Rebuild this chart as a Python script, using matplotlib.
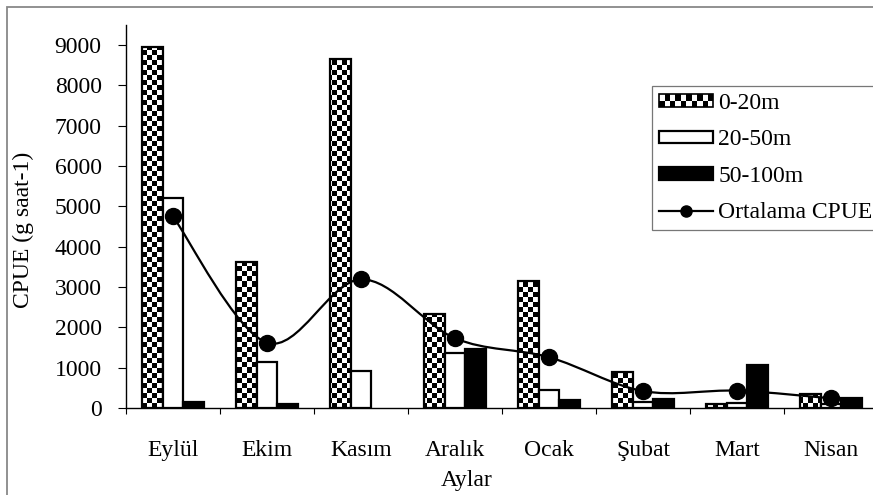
import numpy as np
import matplotlib
matplotlib.use('Agg')
import matplotlib.pyplot as plt
from matplotlib.patches import Rectangle, PathPatch
from matplotlib.path import Path
from matplotlib.lines import Line2D
from matplotlib.legend_handler import HandlerBase

plt.rcParams['font.family'] = ['Liberation Serif', 'DejaVu Serif']

# data
months = ['Eylül', 'Ekim', 'Kasım', 'Aralık', 'Ocak', 'Şubat', 'Mart', 'Nisan']
d0_20 = [8950, 3630, 8650, 2330, 3150, 890, 90, 355]
d20_50 = [5200, 1150, 925, 1360, 450, 140, 120, 100]
d50_100 = [150, 100, 0, 1465, 190, 215, 1070, 255]
mean_cpue = [4750, 1620, 3190, 1730, 1260, 420, 430, 240]
yticks = [0, 1000, 2000, 3000, 4000, 5000, 6000, 7000, 8000, 9000]

W, H = 873, 495
fig = plt.figure(figsize=(W / 100, H / 100), dpi=100)
ax = fig.add_axes([126 / W, (H - 408) / H, 752 / W, 383 / H])

x = np.arange(len(months))
bw = 0.2234
fs = 17

# checkered bars: checker image clipped to every bar
b1 = ax.bar(x - bw, d0_20, bw, facecolor='none', edgecolor='black', linewidth=1.6, zorder=3)
cell = 5.0
nx, ny = int(752 / cell), int(383 / cell)
checker = (np.add.outer(np.arange(ny), np.arange(nx)) % 2).astype(float)
for bar in b1:
    im = ax.imshow(checker, extent=[0, 1, 0, 1], transform=ax.transAxes, cmap='gray',
                   interpolation='nearest', aspect='auto', zorder=2)
    im.set_clip_path(bar)

b2 = ax.bar(x, d20_50, bw, facecolor='white', edgecolor='black', linewidth=1.6, zorder=3)
b3 = ax.bar(x + bw, d50_100, bw, facecolor='black', edgecolor='black', linewidth=1.6, zorder=3)
for bars in (b1, b2, b3):
    for bar in bars:
        if bar.get_height() == 0:
            bar.set_visible(False)

# smoothed mean line (Excel-like bezier through the points)
pts = np.column_stack([x, mean_cpue]).astype(float)
n = len(pts)
verts = [pts[0]]
codes = [Path.MOVETO]
for i in range(n - 1):
    p0 = pts[max(i - 1, 0)]
    p1 = pts[i]
    p2 = pts[i + 1]
    p3 = pts[min(i + 2, n - 1)]
    verts += [p1 + (p2 - p0) / 6.0, p2 - (p3 - p1) / 6.0, p2]
    codes += [Path.CURVE4] * 3
ax.add_patch(PathPatch(Path(verts, codes), facecolor='none', edgecolor='black', linewidth=1.6, zorder=4))
ax.plot(x, mean_cpue, linestyle='none', marker='o', markersize=11.5, color='black', zorder=5)

ax.set_xlim(-0.5, len(months) - 0.5)
ax.set_ylim(0, 9500)
ax.set_yticks(yticks)
ax.set_yticklabels([str(v) for v in yticks], fontsize=fs)
ax.set_xticks(x)
ax.set_xticklabels(months, fontsize=fs)
ax.set_xticks(np.arange(len(months) + 1) - 0.5, minor=True)
ax.tick_params(axis='x', which='major', length=0, pad=23)
ax.tick_params(axis='x', which='minor', length=4.5, width=0.8, direction='out')
ax.tick_params(axis='y', length=5.5, width=0.8, pad=12)
for s in ['top', 'right']:
    ax.spines[s].set_visible(False)
for s in ['left', 'bottom']:
    ax.spines[s].set_linewidth(1.0)

ax.set_xlabel('Aylar', fontsize=fs, va='center')
ax.xaxis.set_label_coords(0.453, -0.19)
ax.set_ylabel('CPUE (g saat-1)', fontsize=fs, va='center')
ax.yaxis.set_label_coords(-0.136, 0.465)


class CheckerHandler(HandlerBase):
    def create_artists(self, legend, orig_handle, xdescent, ydescent, width, height, fontsize, trans):
        arts = []
        ncol = 10
        cw = width / ncol
        ch = height / 2
        for r in range(2):
            for c in range(ncol):
                col = 'black' if (r + c) % 2 == 0 else 'white'
                arts.append(Rectangle((-xdescent + c * cw, -ydescent + r * ch), cw, ch,
                                      facecolor=col, edgecolor='none', transform=trans))
        arts.append(Rectangle((-xdescent, -ydescent), width, height, facecolor='none',
                              edgecolor='black', linewidth=1.2, transform=trans))
        return arts


mean_handle = Line2D([], [], color='black', linewidth=1.6, marker='o', markersize=8)
leg = ax.legend([b1[0], b2[0], b3[0], mean_handle], ['0-20m', '20-50m', '50-100m', 'Ortalama CPUE'],
                handler_map={b1[0]: CheckerHandler()},
                loc='upper left', bbox_to_anchor=(652 / W, 1 - 86 / H), bbox_transform=fig.transFigure,
                fontsize=fs, frameon=True, fancybox=False, handlelength=2.3, handleheight=0.45,
                handletextpad=0.2, labelspacing=0.65, borderpad=0.3, borderaxespad=0)
leg.get_frame().set_edgecolor('#555555')
leg.get_frame().set_linewidth(0.9)

# outer chart border
fig.add_artist(Rectangle((7 / W, -10 / H), (W + 10 - 7) / W, (H - 7 + 10) / H, transform=fig.transFigure,
                         facecolor='none', edgecolor='#888888', linewidth=1.3))

fig.savefig('out.png', dpi=100)
